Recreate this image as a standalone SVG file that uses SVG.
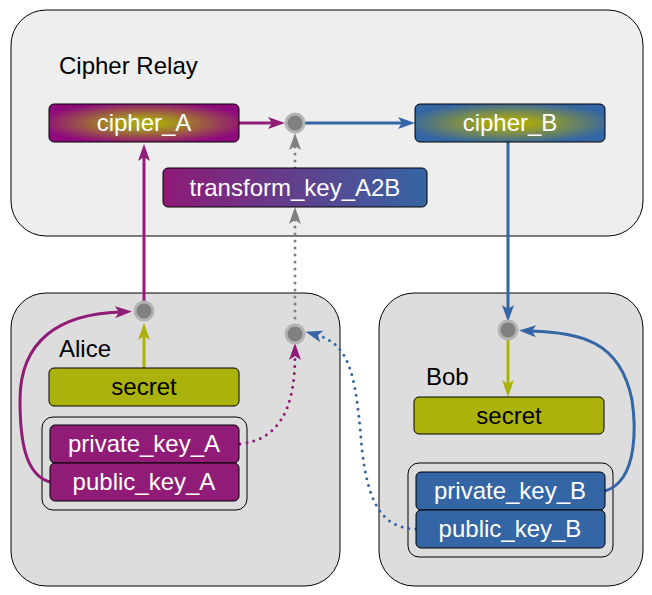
<svg xmlns="http://www.w3.org/2000/svg" width="652" height="595" viewBox="0 0 652 595">
<defs>
<style>
.cl{stroke:#000;stroke-width:1}
.nd{stroke:#000;stroke-width:1}
.t{font-family:"Liberation Sans",Arial,sans-serif;font-size:24px;text-anchor:middle}
.w{fill:#fff}
.k{fill:#000}
.lab{font-family:"Liberation Sans",Arial,sans-serif;font-size:24px;fill:#000}
.e{fill:none;stroke-width:3}
.dot{stroke-dasharray:0 7;stroke-linecap:round}
.pt{fill:#808080;stroke:#b3b3b3;stroke-width:3}
</style>
<radialGradient id="gA" cx="0.5" cy="0.5" r="0.55">
<stop offset="0" stop-color="#aaaa10"/>
<stop offset="0.2" stop-color="#a8a214"/>
<stop offset="1" stop-color="#8e0a7c"/>
</radialGradient>
<radialGradient id="gB" cx="0.5" cy="0.5" r="0.55">
<stop offset="0" stop-color="#aaaa10"/>
<stop offset="0.2" stop-color="#a6a616"/>
<stop offset="1" stop-color="#3465a4"/>
</radialGradient>
<linearGradient id="gT" x1="0" y1="0" x2="1" y2="0">
<stop offset="0" stop-color="#8e1a76"/>
<stop offset="1" stop-color="#3465a4"/>
</linearGradient>
<marker id="aP" viewBox="0 0 17 12" refX="5" refY="6" markerWidth="17" markerHeight="12" markerUnits="userSpaceOnUse" orient="auto"><path d="M0,0 L17,6 L0,12 L4,6 z" fill="#901c78"/></marker>
<marker id="aB" viewBox="0 0 17 12" refX="5" refY="6" markerWidth="17" markerHeight="12" markerUnits="userSpaceOnUse" orient="auto"><path d="M0,0 L17,6 L0,12 L4,6 z" fill="#3465a4"/></marker>
<marker id="aG" viewBox="0 0 17 12" refX="5" refY="6" markerWidth="17" markerHeight="12" markerUnits="userSpaceOnUse" orient="auto"><path d="M0,0 L17,6 L0,12 L4,6 z" fill="#808080"/></marker>
<marker id="aO" viewBox="0 0 17 12" refX="5" refY="6" markerWidth="17" markerHeight="12" markerUnits="userSpaceOnUse" orient="auto"><path d="M0,0 L17,6 L0,12 L4,6 z" fill="#acb20c"/></marker>
</defs>
<rect width="652" height="595" fill="#fff"/>
<g id="cluster_relay">
<rect class="cl" x="11" y="10" width="632" height="226" rx="35" fill="#eeeeee"/>
<text class="lab" x="59" y="74">Cipher Relay</text>
</g>
<g id="cluster_alice">
<rect class="cl" x="11" y="293" width="329" height="293" rx="35" fill="#dddddd"/>
<text class="lab" x="59" y="357">Alice</text>
<rect class="cl" x="42" y="417" width="205" height="93" rx="11" fill="#dddddd"/>
</g>
<g id="cluster_bob">
<rect class="cl" x="379" y="293" width="264" height="293" rx="35" fill="#dddddd"/>
<text class="lab" x="426" y="385">Bob</text>
<rect class="cl" x="408" y="463" width="205" height="94" rx="11" fill="#dddddd"/>
</g>
<g id="edges">
<path class="e" stroke="#901c78" d="M239,123 L273,123" marker-end="url(#aP)"/>
<path class="e" stroke="#3465a4" d="M303,123 L403,123" marker-end="url(#aB)"/>
<path class="e dot" stroke="#808080" d="M295,168 L295,145" marker-end="url(#aG)"/>
<path class="e" stroke="#901c78" d="M144,303 L144,156" marker-end="url(#aP)"/>
<path class="e" stroke="#acb20c" d="M144,368 L144,335" marker-end="url(#aO)"/>
<path class="e" stroke="#901c78" d="M50,482 C25,475 20,440 20,400 C20,340 60,314 120,312" marker-end="url(#aP)"/>
<path class="e dot" stroke="#901c78" d="M240,444 C275,440 295,415 295,355" marker-end="url(#aP)"/>
<path class="e dot" stroke="#3465a4" d="M416,529 C380,528 368,500 362,450 C356,380 352,345 317,335" marker-end="url(#aB)"/>
<path class="e dot" stroke="#808080" d="M295,325 L295,219" marker-end="url(#aG)"/>
<path class="e" stroke="#3465a4" d="M508,142 L508,310" marker-end="url(#aB)"/>
<path class="e" stroke="#acb20c" d="M508,339 L508,385" marker-end="url(#aO)"/>
<path class="e" stroke="#3465a4" d="M605,491 C640,480 635,420 632,400 C620,340 580,333 531,331" marker-end="url(#aB)"/>
</g>
<g id="cipher_A">
<rect class="nd" x="49" y="104" width="190" height="38" rx="5" fill="url(#gA)"/>
<text class="t w" x="144" y="131">cipher_A</text>
</g>
<g id="cipher_B">
<rect class="nd" x="415" y="104" width="190" height="38" rx="5" fill="url(#gB)"/>
<text class="t w" x="510" y="131">cipher_B</text>
</g>
<g id="transform_key_A2B">
<rect class="nd" x="163" y="168" width="264" height="39" rx="5" fill="url(#gT)"/>
<text class="t w" x="295" y="196">transform_key_A2B</text>
</g>
<g id="relay_point"><circle class="pt" cx="295" cy="123" r="9"/></g>
<g id="alice_point1"><circle class="pt" cx="144" cy="311" r="9"/></g>
<g id="alice_point2"><circle class="pt" cx="295" cy="334" r="9"/></g>
<g id="bob_point"><circle class="pt" cx="508" cy="330" r="9"/></g>
<g id="secret_A">
<rect class="nd" x="49" y="368" width="190" height="38" rx="5" fill="#acb20c"/>
<text class="t k" x="144" y="395">secret</text>
</g>
<g id="private_key_A">
<rect class="nd" x="50" y="425" width="189" height="38" rx="5" fill="#901c78"/>
<text class="t w" x="144" y="452">private_key_A</text>
</g>
<g id="public_key_A">
<rect class="nd" x="50" y="463" width="189" height="38" rx="5" fill="#901c78"/>
<text class="t w" x="144" y="490">public_key_A</text>
</g>
<g id="secret_B">
<rect class="nd" x="414" y="397" width="190" height="37" rx="5" fill="#acb20c"/>
<text class="t k" x="509" y="424">secret</text>
</g>
<g id="private_key_B">
<rect class="nd" x="416" y="472" width="189" height="38" rx="5" fill="#3465a4"/>
<text class="t w" x="510" y="499">private_key_B</text>
</g>
<g id="public_key_B">
<rect class="nd" x="416" y="510" width="189" height="38" rx="5" fill="#3465a4"/>
<text class="t w" x="510" y="537">public_key_B</text>
</g>
</svg>
